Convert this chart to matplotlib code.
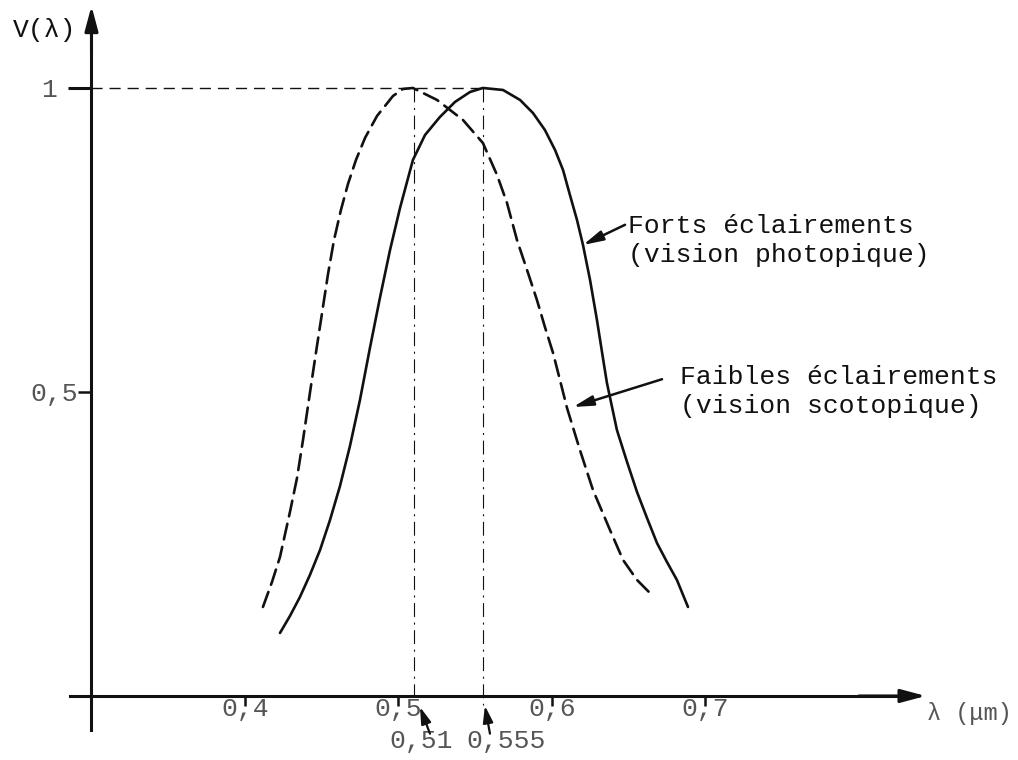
import matplotlib
matplotlib.use("Agg")
import matplotlib.pyplot as plt

# Relative luminous efficiency V(lambda), wavelength in micrometres
photopic_wl = [0.4228, 0.4293, 0.4358, 0.4423, 0.4489, 0.4554, 0.4619, 0.4684,
               0.4749, 0.4814, 0.4879, 0.4945, 0.5010, 0.5094, 0.5173, 0.5270,
               0.5368, 0.5466, 0.5550, 0.5681, 0.5792, 0.5876, 0.5954, 0.6020,
               0.6072, 0.6117, 0.6163, 0.6202, 0.6248, 0.6293, 0.6332, 0.6358,
               0.6423, 0.6489, 0.6554, 0.6619, 0.6684, 0.6749, 0.6814, 0.6886]
photopic_v = [0.1036, 0.1316, 0.1628, 0.1990, 0.2401, 0.2895, 0.3454, 0.4112,
              0.4868, 0.5724, 0.6546, 0.7336, 0.8026, 0.8816, 0.9227, 0.9523,
              0.9770, 0.9934, 1.0000, 0.9967, 0.9803, 0.9589, 0.9309, 0.8980,
              0.8651, 0.8240, 0.7829, 0.7418, 0.6842, 0.6184, 0.5559, 0.5148,
              0.4375, 0.3849, 0.3355, 0.2928, 0.2516, 0.2204, 0.1908, 0.1464]

scotopic_wl = [0.4117, 0.4176, 0.4228, 0.4293, 0.4339, 0.4378, 0.4423, 0.4463,
               0.4502, 0.4541, 0.4580, 0.4625, 0.4671, 0.4723, 0.4782, 0.4860,
               0.4964, 0.5029, 0.5094, 0.5251, 0.5420, 0.5550, 0.5642, 0.5707,
               0.5772, 0.5844, 0.5902, 0.5954, 0.6007, 0.6052, 0.6098, 0.6182,
               0.6267, 0.6378, 0.6463, 0.6554, 0.6638]
scotopic_v = [0.1464, 0.1875, 0.2286, 0.3026, 0.3586, 0.4211, 0.4984, 0.5658,
              0.6299, 0.6941, 0.7500, 0.7993, 0.8421, 0.8816, 0.9178, 0.9539,
              0.9868, 0.9984, 1.0000, 0.9803, 0.9474, 0.9095, 0.8569, 0.8109,
              0.7500, 0.6957, 0.6513, 0.6069, 0.5641, 0.5197, 0.4737, 0.4046,
              0.3388, 0.2730, 0.2237, 0.1908, 0.1694]

peak_scotopic = 0.51
peak_photopic = 0.555

x_ticks = [0.4, 0.5, 0.6, 0.7]
x_tick_labels = ["0,4", "0,5", "0,6", "0,7"]
y_ticks = [0.5]
y_tick_labels = ["0,5"]
y_top_tick = [1.0]
y_top_tick_label = ["1"]

label_photopic = ["Forts éclairements", "(vision photopique)"]
label_scotopic = ["Faibles éclairements", "(vision scotopique)"]

plt.rcParams["font.family"] = ["Liberation Mono", "DejaVu Sans Mono"]
plt.rcParams["lines.scale_dashes"] = False

ink = "#111111"
grey_text = "#555555"
FS = 19

fig = plt.figure(figsize=(10.18, 7.6), dpi=100)
fig.patch.set_facecolor("white")
ax = fig.add_axes([0, 0, 1, 1])
ax.set_xlim(0.2404, 0.9036)
ax.set_ylim(-0.1053, 1.1447)
ax.set_facecolor("white")

# axes drawn as crossing lines with arrowheads
for s in ("top", "right"):
    ax.spines[s].set_visible(False)
ax.spines["left"].set_position(("data", 0.3))
ax.spines["left"].set_bounds(-0.056, 1.10)
ax.spines["bottom"].set_position(("data", 0.0))
ax.spines["bottom"].set_bounds(0.286, 0.825)
for s in ("left", "bottom"):
    ax.spines[s].set_linewidth(2.2)
    ax.spines[s].set_color(ink)

arrow_head = dict(arrowstyle="-|>,head_length=0.75,head_width=0.2",
                  lw=2.2, color=ink, shrinkA=0, shrinkB=0, mutation_scale=20)
ax.annotate("", xy=(0.3, 1.135), xytext=(0.3, 1.06), arrowprops=arrow_head)
ax.annotate("", xy=(0.8435, 0.0), xytext=(0.80, 0.0), arrowprops=arrow_head)

# ticks
ax.set_xticks(x_ticks, labels=x_tick_labels)
ax.tick_params(axis="x", direction="out", length=7.2, width=1.8, color=ink,
               pad=-6.5, labelsize=FS, labelcolor=grey_text)
ax.set_yticks(y_ticks, labels=y_tick_labels)
ax.set_yticks(y_top_tick, labels=y_top_tick_label, minor=True)
ax.tick_params(axis="y", which="major", direction="out", length=9.4, width=1.8,
               color=ink, pad=0.5, labelsize=FS, labelcolor=grey_text)
ax.tick_params(axis="y", which="minor", direction="out", length=16.5, width=2.2,
               color=ink, pad=8, labelsize=FS, labelcolor=grey_text)

# reference lines at the maxima
ax.plot([0.3, peak_photopic], [1.0, 1.0], color=ink, lw=1.0, dashes=(8, 5))
ax.plot([peak_scotopic, peak_scotopic], [1.0, 0.0], color=ink, lw=0.8,
        dashes=(10, 4, 1.5, 4))
ax.plot([peak_photopic, peak_photopic], [1.0, -0.015], color=ink, lw=0.8,
        dashes=(10, 4, 1.5, 4))

# curves
ax.plot(photopic_wl, photopic_v, color=ink, lw=1.9, solid_joinstyle="round",
        solid_capstyle="round")
ax.plot(scotopic_wl, scotopic_v, color=ink, lw=1.9, dashes=(11.5, 5.5),
        dash_capstyle="round", dash_joinstyle="round")

# axis names
ax.text(0.2486, 1.084, "V(λ)", fontsize=FS, color=ink, ha="left", va="baseline")
ax.text(0.8445, -0.0395, "λ (μm)", fontsize=17, color=grey_text, ha="left",
        va="baseline")

# wavelength of the maxima
small_arrow = dict(arrowstyle="-|>,head_length=0.5,head_width=0.15", lw=1.6,
                   color=ink, shrinkA=0, shrinkB=0, mutation_scale=20)
ax.text(0.5147, -0.0855, "0,51", fontsize=FS, color=grey_text, ha="center",
        va="baseline")
ax.text(0.5700, -0.0855, "0,555", fontsize=FS, color=grey_text, ha="center",
        va="baseline")
ax.annotate("", xy=(0.5140, -0.018), xytext=(0.5205, -0.062), arrowprops=small_arrow)
ax.annotate("", xy=(0.5563, -0.016), xytext=(0.5596, -0.062), arrowprops=small_arrow)

# curve labels
ax.text(0.6495, (696 - 233) / 608, label_photopic[0], fontsize=FS, color=ink,
        ha="left", va="baseline")
ax.text(0.6495, (696 - 262) / 608, label_photopic[1], fontsize=FS, color=ink,
        ha="left", va="baseline")
ax.text(0.6836, (696 - 384) / 608, label_scotopic[0], fontsize=FS, color=ink,
        ha="left", va="baseline")
ax.text(0.6836, (696 - 413) / 608, label_scotopic[1], fontsize=FS, color=ink,
        ha="left", va="baseline")

pointer = dict(arrowstyle="-|>,head_length=0.6,head_width=0.15", lw=1.8,
               color=ink, shrinkA=0, shrinkB=0, mutation_scale=20)
ax.annotate("", xy=(0.6202, 0.7418), xytext=(0.6476, 0.775), arrowprops=pointer)
ax.annotate("", xy=(0.6137, 0.4753), xytext=(0.6717, 0.521), arrowprops=pointer)

fig.savefig("out.png", dpi=100, facecolor="white")
